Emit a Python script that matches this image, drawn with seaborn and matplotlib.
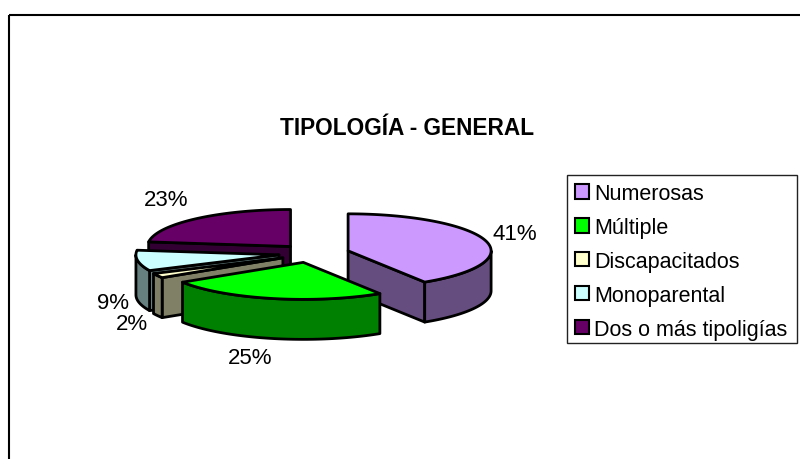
import numpy as np
import matplotlib
matplotlib.use('Agg')
import matplotlib.pyplot as plt
from matplotlib.patches import Polygon, Patch, Rectangle
import seaborn as sns

categories = ['Numerosas', 'Múltiple', 'Discapacitados', 'Monoparental', 'Dos o más tipoligías']
values = [41, 25, 2, 9, 23]
labels = ['41%', '25%', '2%', '9%', '23%']
colors = ['#CC99FF', '#00FF00', '#FFFFCC', '#CCFFFF', '#660066']
title = 'TIPOLOGÍA - GENERAL'

sns.set_theme(style='white')
plt.rcParams['font.family'] = ['Liberation Sans', 'DejaVu Sans']

# pixel style axes over the whole figure, y goes down
fig = plt.figure(figsize=(8, 4.6), dpi=100)
ax = fig.add_axes([0, 0, 1, 1])
ax.set_xlim(0, 800)
ax.set_ylim(460, 0)
ax.axis('off')

# pie geometry
cx, cy = 314, 254.4
rx, ry = 143, 37
depth = 40
explode = 35.5
nudge_x = [0, -3, 0, 0, 0]  # the green slice sits a little left of the plain explode
lw = 2.0

# outer frame, open at the right and bottom
ax.plot([9, 9], [460, 16], color='black', lw=1.5, solid_capstyle='butt', solid_joinstyle='miter')
ax.plot([9, 800], [16, 16], color='black', lw=1.5, solid_capstyle='butt')

def point(ox, oy, a):
    return ox + rx * np.sin(a), oy - ry * np.cos(a)

shares = np.array(values) / sum(values)
edges = np.concatenate([[0], np.cumsum(shares)]) * 2 * np.pi

slices = []
for i in range(len(values)):
    a0, a1 = edges[i], edges[i + 1]
    mid = (a0 + a1) / 2
    ox = cx + explode * np.sin(mid) + nudge_x[i]
    oy = cy - explode * ry / rx * np.cos(mid)
    slices.append((i, a0, a1, ox, oy))

# back to front
for i, a0, a1, ox, oy in [slices[j] for j in (4, 3, 2, 0, 1)]:
    face = colors[i]
    side = tuple(c * 0.5 for c in matplotlib.colors.to_rgb(face))
    poly = dict(edgecolor='black', lw=lw, joinstyle='round')

    # radial walls that look toward the viewer
    for a, visible in ((a0, -np.sin(a0) > 1e-9), (a1, np.sin(a1) > 1e-9)):
        if visible:
            px, py = point(ox, oy, a)
            ax.add_patch(Polygon([(ox, oy), (px, py), (px, py + depth), (ox, oy + depth)],
                                 facecolor=side, **poly))

    # curved wall, front half only
    lo, hi = max(a0, np.pi / 2), min(a1, 3 * np.pi / 2)
    if hi > lo:
        t = np.linspace(lo, hi, 80)
        xs, ys = point(ox, oy, t)
        wall = np.r_[np.c_[xs, ys], np.c_[xs, ys + depth][::-1]]
        ax.add_patch(Polygon(wall, facecolor=side, **poly))

    # top surface
    t = np.linspace(a0, a1, 120)
    xs, ys = point(ox, oy, t)
    ax.add_patch(Polygon(np.r_[[(ox, oy)], np.c_[xs, ys]], facecolor=face, **poly))

ax.text(407, 129, title, fontsize=16.3, fontweight='bold', color='black', ha='center', va='center')

label_pos = [(514.5, 235), (250.5, 359), (132, 325), (113.5, 304), (166, 201)]
for text, (lx, ly) in zip(labels, label_pos):
    ax.text(lx, ly, text, fontsize=16, color='black', ha='center', va='center')

# legend box drawn by hand, the legend's own frame comes out too tall
ax.add_patch(Rectangle((567, 176), 230, 168, facecolor='white', edgecolor='#222222', lw=1.0))
handles = [Patch(facecolor=c, edgecolor='black', lw=1.5) for c in colors]
ax.legend(handles, categories, loc='upper left', bbox_to_anchor=(567 / 800, 1 - 176 / 460),
          fontsize=15.5, frameon=False,
          borderaxespad=0, borderpad=0.37, labelspacing=0.6,
          handlelength=0.65, handleheight=0.65, handletextpad=0.25, labelcolor='black')

fig.savefig('out.png', dpi=100)
